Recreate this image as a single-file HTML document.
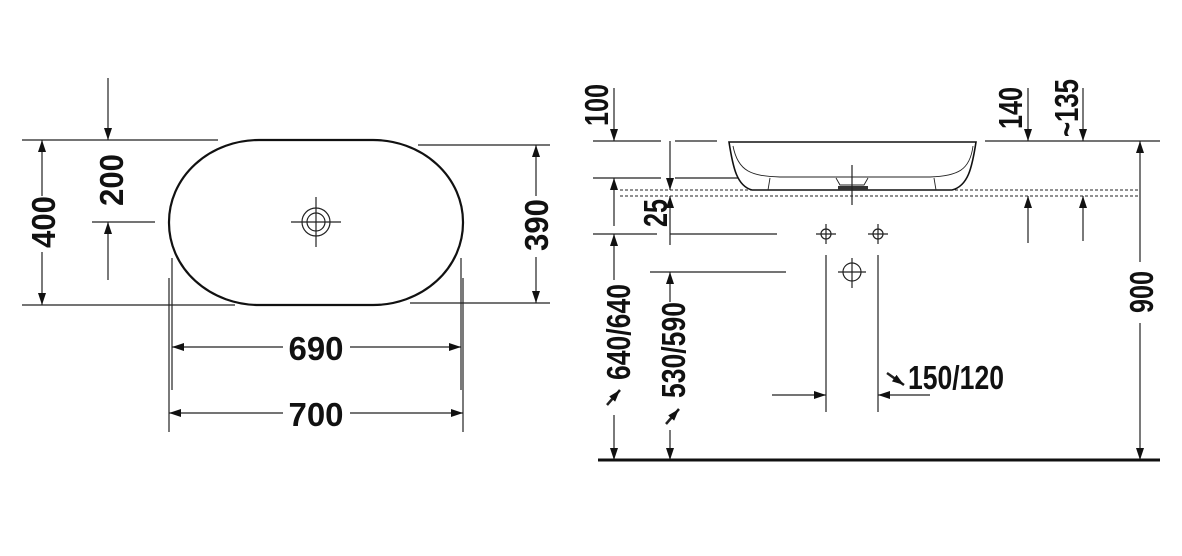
<!DOCTYPE html>
<html><head><meta charset="utf-8"><style>
html,body{margin:0;padding:0;background:#fff;}
svg{display:block}
text{font-family:"Liberation Sans",sans-serif;font-weight:bold;font-size:33px;fill:#111;}
</style></head><body>
<svg width="1182" height="556" viewBox="0 0 1182 556" xmlns="http://www.w3.org/2000/svg">
<defs>
<marker id="a" viewBox="0 0 12 8" refX="12" refY="4" markerWidth="12" markerHeight="8" markerUnits="userSpaceOnUse" orient="auto"><path d="M0,0 L12,4 L0,8 Z" fill="#111"/></marker>
</defs>
<g stroke="#222" stroke-width="1.2" fill="none">
<rect x="169" y="140" width="294" height="165" rx="90" ry="82" stroke-width="2.2" stroke="#111"/>
<line x1="22" y1="140" x2="218" y2="140"/>
<line x1="22" y1="305" x2="235" y2="305"/>
<line x1="418" y1="145" x2="550" y2="145"/>
<line x1="410" y1="303" x2="550" y2="303"/>
<line x1="42" y1="196" x2="42" y2="140" marker-end="url(#a)"/>
<line x1="42" y1="252" x2="42" y2="305" marker-end="url(#a)"/>
<line x1="108" y1="78" x2="108" y2="140" marker-end="url(#a)"/>
<line x1="108" y1="280" x2="108" y2="222" marker-end="url(#a)"/>
<line x1="92" y1="222" x2="155" y2="222"/>
<line x1="536" y1="196" x2="536" y2="145" marker-end="url(#a)"/>
<line x1="536" y1="257" x2="536" y2="303" marker-end="url(#a)"/>
<line x1="172" y1="258" x2="172" y2="390"/>
<line x1="169" y1="278" x2="169" y2="432"/>
<line x1="461" y1="258" x2="461" y2="390"/>
<line x1="463" y1="278" x2="463" y2="432"/>
<line x1="283" y1="347" x2="172" y2="347" marker-end="url(#a)"/>
<line x1="350" y1="347" x2="461" y2="347" marker-end="url(#a)"/>
<line x1="283" y1="413" x2="169" y2="413" marker-end="url(#a)"/>
<line x1="350" y1="413" x2="463" y2="413" marker-end="url(#a)"/>
<circle cx="316" cy="222" r="14"/>
<circle cx="316" cy="222" r="9"/>
<line x1="291" y1="222" x2="341" y2="222"/>
<line x1="316" y1="197" x2="316" y2="247"/>

<line x1="593" y1="141" x2="661" y2="141"/>
<line x1="675" y1="141" x2="717" y2="141"/>
<line x1="985" y1="141" x2="1160" y2="141"/>
<line x1="593" y1="178" x2="661" y2="178"/>
<line x1="675" y1="178" x2="745" y2="178"/>
<line x1="620" y1="190" x2="1140" y2="190" stroke-dasharray="3,2" stroke-width="1"/>
<line x1="620" y1="196" x2="1140" y2="196" stroke-dasharray="3,2" stroke-width="1"/>
<line x1="593" y1="234" x2="657" y2="234"/>
<line x1="670" y1="234" x2="777" y2="234"/>
<line x1="650" y1="272" x2="786" y2="272"/>
<path d="M729,142 L976,142 C972,168 968,186 952,190 L752,190 C737,186 733,168 729,142 Z" stroke="#111" stroke-width="1.6" fill="#fff"/>
<path d="M733,146 C738,172 752,176 780,177 L930,177 C958,176 970,170 973,146" stroke-width="0.9"/>
<path d="M768,190 L770,178 M936,190 L934,178 M836,178 L840,185 L864,185 L868,178" stroke-width="0.9"/>
<rect x="838" y="186" width="30" height="4" fill="#333" stroke="none"/>
<line x1="852" y1="165" x2="852" y2="205"/>
<circle cx="826" cy="234" r="5"/>
<line x1="816" y1="234" x2="836" y2="234"/><line x1="826" y1="224" x2="826" y2="244"/>
<circle cx="878" cy="234" r="5"/>
<line x1="868" y1="234" x2="888" y2="234"/><line x1="878" y1="224" x2="878" y2="244"/>
<circle cx="852" cy="272" r="9"/>
<line x1="838" y1="272" x2="866" y2="272"/><line x1="852" y1="258" x2="852" y2="288"/>
<line x1="826" y1="255" x2="826" y2="412"/>
<line x1="878" y1="255" x2="878" y2="412"/>
<line x1="772" y1="395" x2="826" y2="395" marker-end="url(#a)"/>
<line x1="930" y1="395" x2="878" y2="395" marker-end="url(#a)"/>
<line x1="614" y1="88" x2="614" y2="141" marker-end="url(#a)"/>
<line x1="614" y1="226" x2="614" y2="178" marker-end="url(#a)"/>
<line x1="614" y1="280" x2="614" y2="234" marker-end="url(#a)"/>
<line x1="614" y1="415" x2="614" y2="460" marker-end="url(#a)"/>
<line x1="670" y1="141" x2="670" y2="190" marker-end="url(#a)"/>
<line x1="670" y1="245" x2="670" y2="196" marker-end="url(#a)"/>
<line x1="670" y1="302" x2="670" y2="272" marker-end="url(#a)"/>
<line x1="670" y1="430" x2="670" y2="460" marker-end="url(#a)"/>
<line x1="1028" y1="88" x2="1028" y2="141" marker-end="url(#a)"/>
<line x1="1083" y1="88" x2="1083" y2="141" marker-end="url(#a)"/>
<line x1="1028" y1="243" x2="1028" y2="196" marker-end="url(#a)"/>
<line x1="1083" y1="241" x2="1083" y2="196" marker-end="url(#a)"/>
<line x1="1140" y1="262" x2="1140" y2="141" marker-end="url(#a)"/>
<line x1="1140" y1="323" x2="1140" y2="460" marker-end="url(#a)"/>
<line x1="607" y1="405" x2="620" y2="390" stroke-width="2.5" marker-end="url(#a)"/>
<line x1="666" y1="424" x2="679" y2="409" stroke-width="2.5" marker-end="url(#a)"/>
<line x1="887" y1="373" x2="904" y2="385" stroke-width="2.5" marker-end="url(#a)"/>
</g>
<line x1="598" y1="460" x2="1160" y2="460" stroke="#111" stroke-width="3"/>

<g>
<text x="316" y="360" text-anchor="middle" textLength="55" lengthAdjust="spacingAndGlyphs">690</text>
<text x="316" y="426" text-anchor="middle" textLength="55" lengthAdjust="spacingAndGlyphs">700</text>
<text transform="translate(55,222) rotate(-90)" text-anchor="middle" textLength="52" lengthAdjust="spacingAndGlyphs">400</text>
<text transform="translate(123,180) rotate(-90)" text-anchor="middle" textLength="52" lengthAdjust="spacingAndGlyphs">200</text>
<text transform="translate(548,225) rotate(-90)" text-anchor="middle" textLength="52" lengthAdjust="spacingAndGlyphs">390</text>
<text transform="translate(608,105) rotate(-90)" text-anchor="middle" textLength="42" lengthAdjust="spacingAndGlyphs">100</text>
<text transform="translate(667,213) rotate(-90)" text-anchor="middle" textLength="28" lengthAdjust="spacingAndGlyphs">25</text>
<text transform="translate(630,332) rotate(-90)" text-anchor="middle" textLength="96" lengthAdjust="spacingAndGlyphs">640/640</text>
<text transform="translate(685,350) rotate(-90)" text-anchor="middle" textLength="96" lengthAdjust="spacingAndGlyphs">530/590</text>
<text transform="translate(1022,108) rotate(-90)" text-anchor="middle" textLength="42" lengthAdjust="spacingAndGlyphs">140</text>
<text transform="translate(1078,108) rotate(-90)" text-anchor="middle" textLength="58" lengthAdjust="spacingAndGlyphs">~135</text>
<text transform="translate(1153,292) rotate(-90)" text-anchor="middle" textLength="42" lengthAdjust="spacingAndGlyphs">900</text>
<text x="908" y="389" textLength="96" lengthAdjust="spacingAndGlyphs">150/120</text>
</g>
</svg>
</body></html>
